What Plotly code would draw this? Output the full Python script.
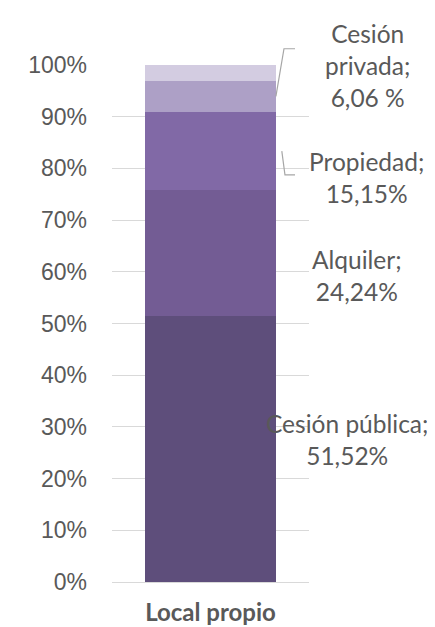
import plotly.graph_objects as go

# ---- data ----
category = ["Local propio"]
series_names = ["Cesión pública", "Alquiler", "Propiedad", "Cesión privada", "Otros"]
series_values = [51.52, 24.24, 15.15, 6.06, 3.03]
label_texts = ["Cesión pública;<br>51,52%", "Alquiler;<br>24,24%",
               "Propiedad;<br>15,15%", "Cesión<br>privada;<br>6,06 %", None]
y_ticks = [0, 10, 20, 30, 40, 50, 60, 70, 80, 90, 100]
y_tick_labels = [f"{t}%" for t in y_ticks]

# ---- style ----
colors = ["#5e4e7b", "#735c94", "#8169a6", "#ada0c6", "#d3cce1"]
text_color = "#595959"
grid_color = "#d9d9d9"
leader_color = "#a6a6a6"
bar_width = 0.664
# label placement (x in paper units, y offset in data units from segment midpoint)
label_x = [1.195, 1.243, 1.29, 1.297, None]
label_dy = [1.8, -4.4, -5.1, 5.9, None]
# leader lines: (start x, elbow x, end x) paper, elbow y offset from midpoint (data units)
leaders = {2: (0.862, 0.878, 0.929, -4.6), 3: (0.832, 0.873, 0.929, 9.2)}

fig = go.Figure()
for name, val, col in zip(series_names, series_values, colors):
    fig.add_trace(go.Bar(x=category, y=[val], name=name, marker_color=col,
                         marker_line_width=0, width=bar_width, hoverinfo="name+y"))

ymax = y_ticks[-1]
cum = 0
annotations = []
shapes = []
for i, val in enumerate(series_values):
    mid = cum + val / 2
    cum += val
    if label_texts[i] is None:
        continue
    annotations.append(dict(x=label_x[i], y=mid + label_dy[i], xref="paper", yref="y",
                            text=label_texts[i], showarrow=False, align="center",
                            xanchor="center", yanchor="middle",
                            font=dict(family="Lato", size=24.5, color=text_color)))
    if i in leaders:
        x0, x1, x2, dy = leaders[i]
        y0 = mid / ymax
        y1 = (mid + dy) / ymax
        shapes.append(dict(type="path", xref="paper", yref="paper",
                           path=f"M {x0},{y0} L {x1},{y1} L {x2},{y1}",
                           line=dict(color=leader_color, width=1.2)))

# the page body adds an 8px offset, so the figure is drawn 8px smaller
fig.update_layout(
    barmode="stack",
    width=427, height=619,
    margin=dict(l=104, r=126, t=57, b=45, autoexpand=False),
    plot_bgcolor="white", paper_bgcolor="white",
    showlegend=False,
    annotations=annotations,
    shapes=shapes,
    bargap=0,
)
fig.update_yaxes(range=[0, ymax], tickvals=y_ticks, ticktext=y_tick_labels,
                 showgrid=True, gridcolor=grid_color, gridwidth=1,
                 zeroline=True, zerolinecolor=grid_color, zerolinewidth=1,
                 showline=False, ticks="", ticklabelstandoff=24, automargin=False,
                 tickfont=dict(family="Liberation Sans", size=23, color=text_color))
fig.update_xaxes(range=[-0.5, 0.5], showgrid=False, showline=False, ticks="",
                 ticklabelstandoff=14, automargin=False,
                 tickfont=dict(family="Lato", size=24, color=text_color, weight="bold"))

fig.write_html("out.html")
